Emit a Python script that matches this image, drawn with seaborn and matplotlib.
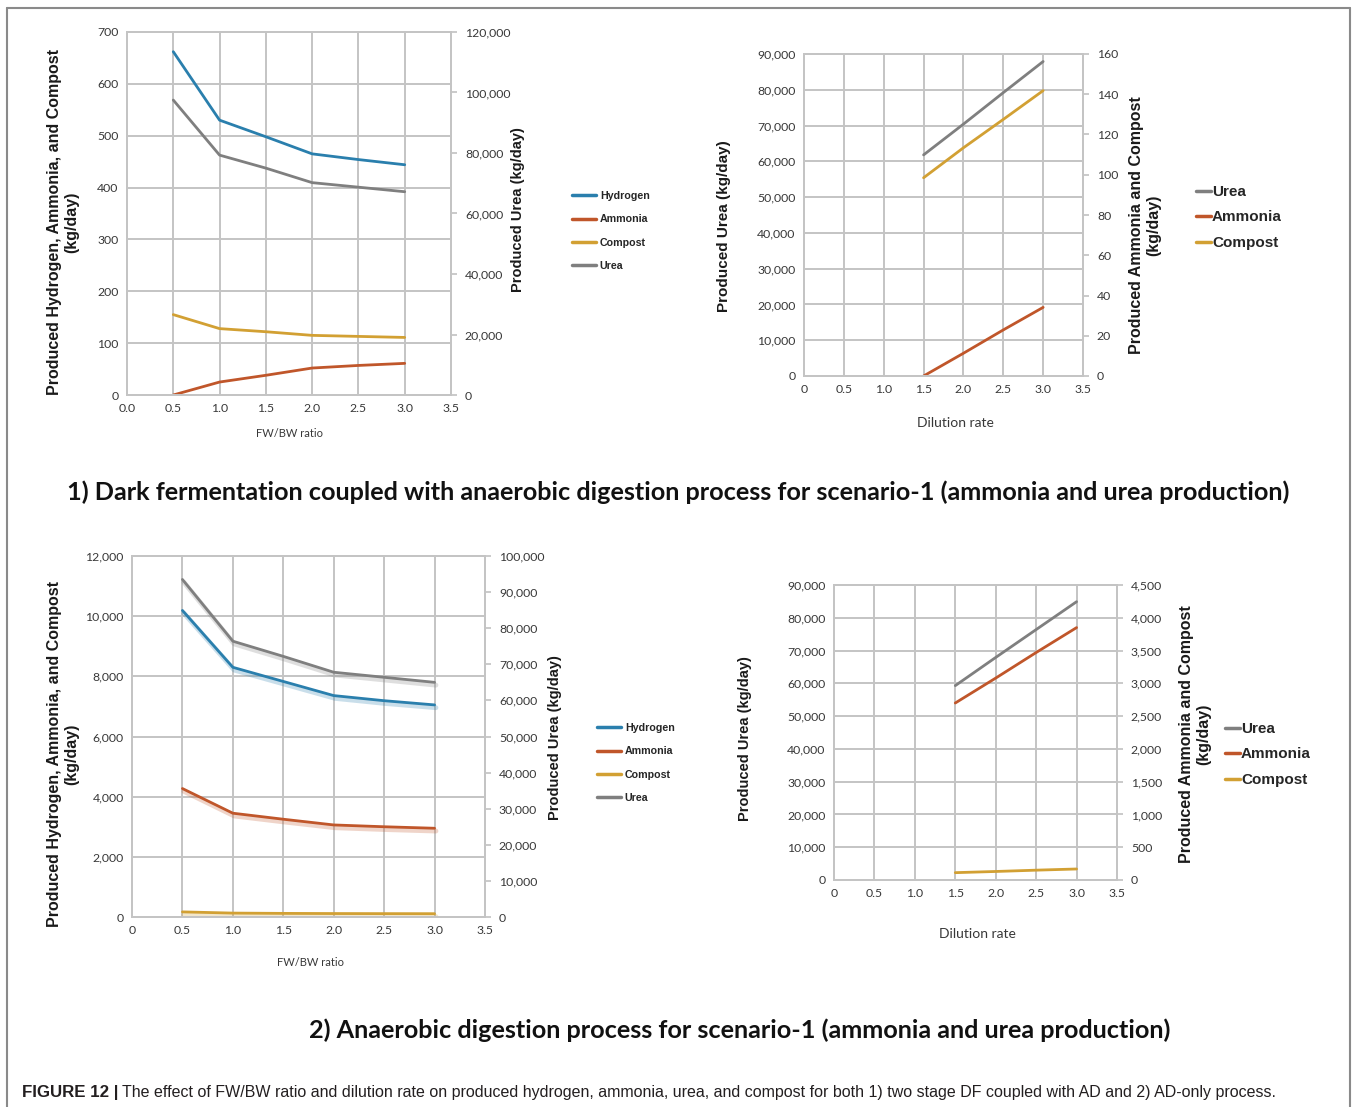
import matplotlib
matplotlib.use("Agg")
import matplotlib.pyplot as plt
import matplotlib.patheffects as pe
from matplotlib.lines import Line2D
import seaborn as sns

# ---- data ----
ratio = [0.5, 1.0, 1.5, 2.0, 2.5, 3.0]
s1_hydrogen = [662, 530, 498, 465, 454, 444]
s1_ammonia = [0, 25, 38, 52, 57, 61]
s1_compost = [155, 128, 122, 115, 113, 111]
s1_urea = [97500, 79300, 75000, 70200, 68700, 67200]

dilution = [1.5, 2.0, 2.5, 3.0]
s1d_urea = [61800, 70400, 79200, 87900]
s1d_ammonia = [0, 11.3, 22.9, 34.1]
s1d_compost = [98.5, 113.4, 127.5, 141.8]

s2_hydrogen = [10190, 8300, 7830, 7360, 7190, 7050]
s2_ammonia = [4270, 3450, 3250, 3060, 3000, 2950]
s2_compost = [170, 130, 120, 115, 112, 110]
s2_urea = [93500, 76400, 72200, 67800, 66400, 65000]

s2d_urea = [59300, 67900, 76400, 84900]
s2d_ammonia = [2700, 3080, 3470, 3850]
s2d_compost = [112, 130, 150, 168]

xticks_ratio = ["0.0", "0.5", "1.0", "1.5", "2.0", "2.5", "3.0", "3.5"]
xticks_other = ["0", "0.5", "1.0", "1.5", "2.0", "2.5", "3.0", "3.5"]

C_H2 = "#2a7fad"
C_NH3 = "#c0562a"
C_COMP = "#d2a033"
C_UREA = "#7f7f7f"
GRID = "#c4c4c4"
TICK = "#383838"

sns.set_theme(style="whitegrid")
plt.rcParams["font.family"] = ["Liberation Sans", "DejaVu Sans"]

W, H = 1356, 1107
fig = plt.figure(figsize=(W / 100, H / 100), dpi=100)


def make_axes(l, r, t, b):
    return fig.add_axes([l / W, 1 - b / H, (r - l) / W, (b - t) / H])


def style_pair(ax, ax2, ylim, yticks, y2lim, y2ticks, xlabels):
    ax.set_xlim(0, 3.5)
    ax.set_xticks([0, 0.5, 1, 1.5, 2, 2.5, 3, 3.5])
    ax.set_xticklabels(xlabels)
    ax.set_ylim(*ylim)
    ax.set_yticks(yticks)
    ax.set_yticklabels([f"{v:,}" for v in yticks])
    ax2.set_ylim(*y2lim)
    ax2.set_yticks(y2ticks)
    ax2.set_yticklabels([f"{v:,}" for v in y2ticks])
    ax.grid(True, color=GRID, lw=1.4)
    ax2.grid(False)
    for a in (ax, ax2):
        for s in a.spines.values():
            s.set_color(GRID)
            s.set_linewidth(1.4)
        for lab in a.get_xticklabels() + a.get_yticklabels():
            lab.set_family("Lato")
            lab.set_fontsize(8.8)
            lab.set_color(TICK)
    ax.tick_params(axis="both", length=0, pad=6)
    ax2.tick_params(axis="y", length=4, color=GRID, pad=6, right=True)


def draw(ax, x, y, color, shadow=False):
    sns.lineplot(x=x, y=y, ax=ax, color=color, lw=2, legend=False)
    if shadow:
        ax.lines[-1].set_path_effects([
            pe.SimpleLineShadow(offset=(1, -2), shadow_color=color, alpha=0.25, linewidth=3.5),
            pe.Normal()])


def add_legend(names, colors, x, y, size, spacing, hlen):
    handles = [Line2D([0], [0], color=c, lw=2.5) for c in colors]
    fig.legend(handles, names, loc="upper left", bbox_to_anchor=(x / W, 1 - y / H),
               frameon=False, handlelength=hlen, handletextpad=0.4 if hlen > 1.5 else 0.05,
               labelspacing=spacing, prop={"family": "Liberation Sans", "weight": "bold", "size": size},
               borderaxespad=0, borderpad=0)


def ylab(ax, text, xpx, ypx, l, r, t, b, size):
    ax.set_ylabel(text, fontsize=size, fontweight="bold", color="#1a1a1a", rotation=90)
    ax.yaxis.set_label_coords((xpx - l) / (r - l), (b - ypx) / (b - t))
    ax.yaxis.label.set_va("center")
    ax.yaxis.label.set_ha("center")
    ax.yaxis.label.set_multialignment("center")


# ---- panel 1: scenario-1, FW/BW ratio ----
L, R, T, B = 127, 451, 32, 395
ax = make_axes(L, R, T, B)
ax2 = ax.twinx()
draw(ax, ratio, s1_hydrogen, C_H2)
draw(ax, ratio, s1_ammonia, C_NH3)
draw(ax, ratio, s1_compost, C_COMP)
draw(ax2, ratio, s1_urea, C_UREA)
style_pair(ax, ax2, (0, 700), list(range(0, 701, 100)), (0, 120000),
           list(range(0, 120001, 20000)), xticks_ratio)
ylab(ax, "Produced Hydrogen, Ammonia, and Compost\n(kg/day)", 63, 222, L, R, T, B, 11.5)
ylab(ax2, "Produced Urea (kg/day)", 518, 210, L, R, T, B, 10.5)
ax.set_xlabel("FW/BW ratio", fontsize=8, color=TICK, family="Lato")
ax.xaxis.set_label_coords(0.5, (B - 428) / (B - T))
add_legend(["Hydrogen", "Ammonia", "Compost", "Urea"], [C_H2, C_NH3, C_COMP, C_UREA],
           572, 191, 7.7, 1.25, 2.2)

# ---- panel 2: scenario-1, dilution rate ----
L, R, T, B = 804, 1083, 54, 376
ax = make_axes(L, R, T, B)
ax2 = ax.twinx()
draw(ax, dilution, s1d_urea, C_UREA)
draw(ax2, dilution, s1d_ammonia, C_NH3)
draw(ax2, dilution, s1d_compost, C_COMP)
style_pair(ax, ax2, (0, 90000), list(range(0, 90001, 10000)), (0, 160),
           list(range(0, 161, 20)), xticks_other)
ylab(ax, "Produced Urea (kg/day)", 724, 226, L, R, T, B, 11)
ylab(ax2, "Produced Ammonia and Compost\n(kg/day)", 1145, 225, L, R, T, B, 11.5)
ax.set_xlabel("Dilution rate", fontsize=10, color=TICK, family="Lato")
ax.xaxis.set_label_coords((955 - L) / (R - L), (B - 417) / (B - T))
add_legend(["Urea", "Ammonia", "Compost"], [C_UREA, C_NH3, C_COMP], 1196, 185, 11, 0.75, 1.0)

fig.text(678 / W, 1 - 492 / H,
         "1) Dark fermentation coupled with anaerobic digestion process for scenario-1 (ammonia and urea production)",
         ha="center", va="center", fontsize=18.2, fontweight="bold", family="Lato", color="#111111")

# ---- panel 3: scenario-2, FW/BW ratio ----
L, R, T, B = 132, 485, 556, 917
ax = make_axes(L, R, T, B)
ax2 = ax.twinx()
draw(ax, ratio, s2_hydrogen, C_H2, shadow=True)
draw(ax, ratio, s2_ammonia, C_NH3, shadow=True)
draw(ax, ratio, s2_compost, C_COMP, shadow=True)
draw(ax2, ratio, s2_urea, C_UREA, shadow=True)
style_pair(ax, ax2, (0, 12000), list(range(0, 12001, 2000)), (0, 100000),
           list(range(0, 100001, 10000)), xticks_other)
ylab(ax, "Produced Hydrogen, Ammonia, and Compost\n(kg/day)", 63, 754, L, R, T, B, 11.5)
ylab(ax2, "Produced Urea (kg/day)", 555, 738, L, R, T, B, 10.5)
ax.set_xlabel("FW/BW ratio", fontsize=8, color=TICK, family="Lato")
ax.xaxis.set_label_coords((311 - L) / (R - L), (B - 957) / (B - T))
add_legend(["Hydrogen", "Ammonia", "Compost", "Urea"], [C_H2, C_NH3, C_COMP, C_UREA],
           597, 723, 7.7, 1.25, 2.2)

# ---- panel 4: scenario-2, dilution rate ----
L, R, T, B = 834, 1117, 585, 880
ax = make_axes(L, R, T, B)
ax2 = ax.twinx()
draw(ax, dilution, s2d_urea, C_UREA)
draw(ax2, dilution, s2d_ammonia, C_NH3)
draw(ax2, dilution, s2d_compost, C_COMP)
style_pair(ax, ax2, (0, 90000), list(range(0, 90001, 10000)), (0, 4500),
           list(range(0, 4501, 500)), xticks_other)
ylab(ax, "Produced Urea (kg/day)", 745, 739, L, R, T, B, 10.5)
ylab(ax2, "Produced Ammonia and Compost\n(kg/day)", 1195, 734, L, R, T, B, 11.5)
ax.set_xlabel("Dilution rate", fontsize=10, color=TICK, family="Lato")
ax.xaxis.set_label_coords((977 - L) / (R - L), (B - 928) / (B - T))
add_legend(["Urea", "Ammonia", "Compost"], [C_UREA, C_NH3, C_COMP], 1225, 722, 11, 0.75, 1.0)

fig.text(740 / W, 1 - 1030 / H,
         "2) Anaerobic digestion process for scenario-1 (ammonia and urea production)",
         ha="center", va="center", fontsize=18.2, fontweight="bold", family="Lato", color="#111111")

# ---- caption ----
cap1 = fig.text(22 / W, 1 - 1092 / H, "FIGURE 12 |", ha="left", va="center",
                fontsize=12.2, fontweight="bold", color="#231f20")
fig.canvas.draw()
bb = cap1.get_window_extent()
fig.text((bb.x1 + 4) / W, 1 - 1092 / H,
         "The effect of FW/BW ratio and dilution rate on produced hydrogen, ammonia, urea, and compost "
         "for both 1) two stage DF coupled with AD and 2) AD-only process.",
         ha="left", va="center", fontsize=11.5, color="#231f20")

# thin frame around the figure panel
for xs, ys in [([7, 1350], [8, 8]), ([7, 7], [8, 1107]), ([1350, 1350], [8, 1107])]:
    fig.add_artist(Line2D([x / W for x in xs], [1 - y / H for y in ys], color="#8a8a8a", lw=1.5))

fig.savefig("out.png", dpi=100)
